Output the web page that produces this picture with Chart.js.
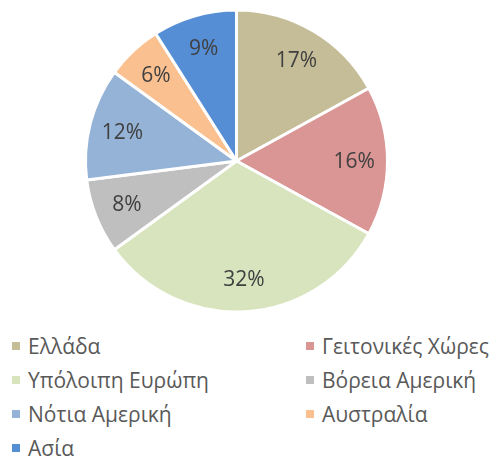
<!DOCTYPE html>
<html>
<head>
<meta charset="utf-8">
<script src="https://cdn.jsdelivr.net/npm/chart.js@4/dist/chart.umd.min.js"></script>
<style>
  html, body { margin: 0; padding: 0; background: #fff; }
  #wrap { position: relative; width: 490px; height: 457px; overflow: hidden; font-family: "Open Sans", sans-serif; }
  #pie { position: absolute; left: 0; top: 0; }
  #legend { position: absolute; left: 0; top: 329px; width: 490px; }
  .item { position: absolute; height: 34px; display: flex; align-items: center; font-size: 21px; color: #595959; white-space: nowrap; }
  .item span.box { display: inline-block; width: 8px; height: 8px; margin-right: 8px; }
</style>
</head>
<body>
<div id="wrap">
  <canvas id="pie" width="490" height="322"></canvas>
  <div id="legend"></div>
</div>
<script>
// chart data
var labels = ["Ελλάδα", "Γειτονικές Χώρες", "Υπόλοιπη Ευρώπη", "Βόρεια Αμερική", "Νότια Αμερική", "Αυστραλία", "Ασία"]
var values = [17, 16, 32, 8, 12, 6, 9]
var colors = ["#C4BD97", "#D99694", "#D7E4BD", "#BFBFBF", "#95B3D7", "#FAC090", "#558ED5"]

// percent labels inside the slices
var pctLabels = {
	id: "pctLabels",
	afterDatasetsDraw: function(chart) {
		var ctx = chart.ctx
		var meta = chart.getDatasetMeta(0)
		var total = values.reduce(function(a, b) { return a + b }, 0)
		ctx.save()
		ctx.font = "21px 'Open Sans'"
		ctx.fillStyle = "#404040"
		ctx.textAlign = "center"
		ctx.textBaseline = "middle"
		meta.data.forEach(function(arc, i) {
			var p = arc.getProps(["x", "y", "startAngle", "endAngle", "outerRadius"], true)
			var mid = (p.startAngle + p.endAngle) / 2
			var r = p.outerRadius * 0.78
			ctx.fillText(Math.round(values[i] / total * 100) + "%", p.x + Math.cos(mid) * r, p.y + Math.sin(mid) * r + 1)
		})
		ctx.restore()
	}
}

var chart = new Chart(document.getElementById("pie").getContext("2d"), {
	type: "pie",
	data: {
		labels: labels,
		datasets: [{
			data: values,
			backgroundColor: colors,
			borderColor: "#ffffff",
			borderWidth: 3
		}]
	},
	options: {
		responsive: false,
		animation: false,
		radius: 151,
		layout: { padding: { right: 17 } },
		plugins: {
			legend: { display: false },
			tooltip: { enabled: false }
		}
	},
	plugins: [pctLabels]
})

// two-column legend below the pie
var legend = document.getElementById("legend")
labels.forEach(function(name, i) {
	var col = i % 2, row = Math.floor(i / 2)
	var el = document.createElement("div")
	el.className = "item"
	el.style.left = (col ? 306 : 12) + "px"
	el.style.top = (row * 34) + "px"
	el.innerHTML = '<span class="box" style="background:' + colors[i] + '"></span>' + name
	legend.appendChild(el)
})
</script>
</body>
</html>
